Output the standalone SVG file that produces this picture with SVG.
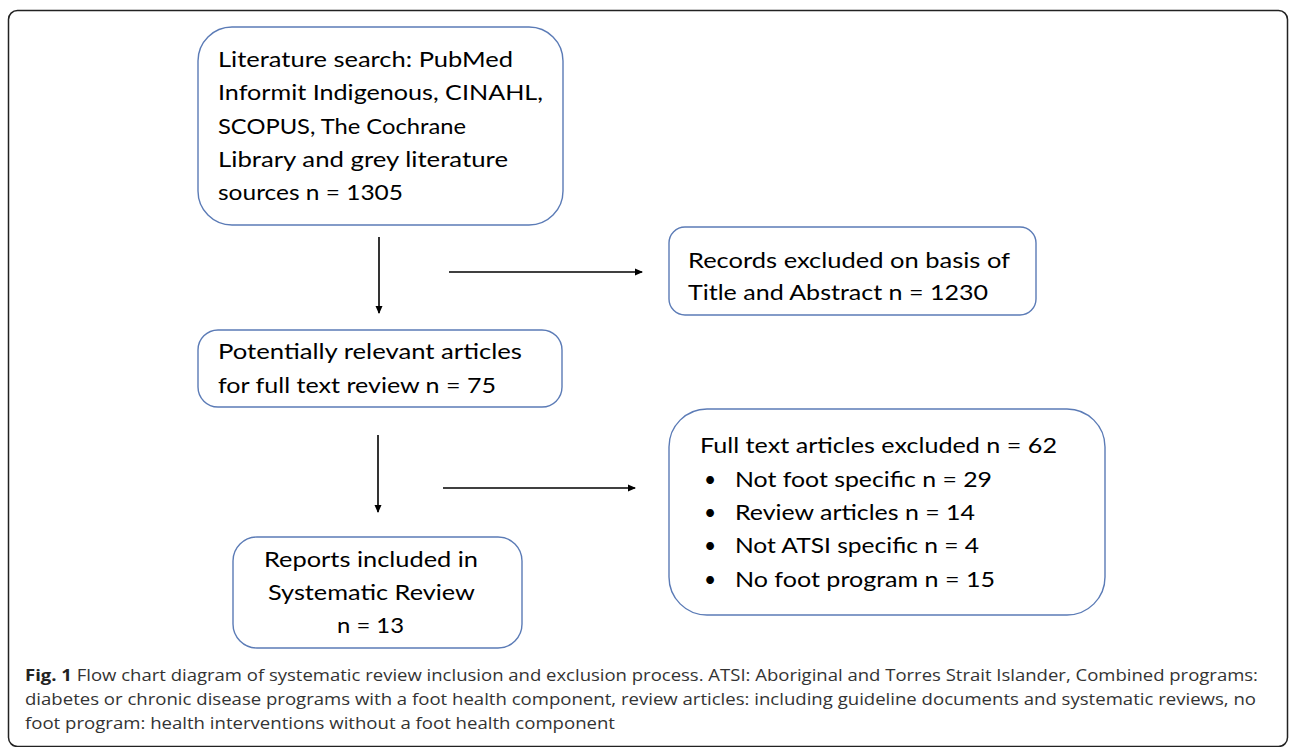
<svg xmlns="http://www.w3.org/2000/svg" width="1290" height="747" viewBox="0 0 1290 747">
<defs>
<style>
.box{fill:#fff;stroke:#5b7bb6;stroke-width:1.4}
.t{font-family:Lato,"Noto Sans",sans-serif;font-size:21px;fill:#000}
.c{font-family:"Open Sans","Noto Sans",sans-serif;font-size:16px;fill:#333}
.cb{font-weight:bold;fill:#222}
.ln{stroke:#000;stroke-width:1.6;fill:none;marker-end:url(#ah)}
.frame{fill:none;stroke:#222;stroke-width:1.5}
</style>
<marker id="ah" markerWidth="8" markerHeight="8" refX="7" refY="4" orient="auto" markerUnits="userSpaceOnUse">
<path d="M0,0.5 L8,4 L0,7.5 Z" fill="#000"/>
</marker>
</defs>
<rect width="1290" height="747" fill="#fff"/>
<rect class="frame" x="8.5" y="10.5" width="1279" height="736" rx="9"/>
<g id="connectors">
<line class="ln" x1="379" y1="237" x2="379" y2="313"/>
<line class="ln" x1="449" y1="272" x2="642" y2="272"/>
<line class="ln" x1="378" y1="435" x2="378" y2="512"/>
<line class="ln" x1="443" y1="488" x2="635" y2="488"/>
</g>
<g id="n1">
<rect class="box" x="198" y="27" width="365" height="198" rx="34"/>
<text class="t" x="218" y="67" textLength="295" lengthAdjust="spacingAndGlyphs">Literature search: PubMed</text>
<text class="t" x="218" y="100" textLength="325" lengthAdjust="spacingAndGlyphs">Informit Indigenous, CINAHL,</text>
<text class="t" x="218" y="134" textLength="248" lengthAdjust="spacingAndGlyphs">SCOPUS, The Cochrane</text>
<text class="t" x="218" y="167" textLength="290" lengthAdjust="spacingAndGlyphs">Library and grey literature</text>
<text class="t" x="218" y="200" textLength="185" lengthAdjust="spacingAndGlyphs">sources n = 1305</text>
</g>
<g id="n2">
<rect class="box" x="198" y="330" width="364" height="77" rx="20"/>
<text class="t" x="218" y="359" textLength="304" lengthAdjust="spacingAndGlyphs">Potentially relevant articles</text>
<text class="t" x="218" y="393" textLength="278" lengthAdjust="spacingAndGlyphs">for full text review n = 75</text>
</g>
<g id="n3">
<rect class="box" x="669" y="227" width="367" height="88" rx="16"/>
<text class="t" x="688" y="268" textLength="322" lengthAdjust="spacingAndGlyphs">Records excluded on basis of</text>
<text class="t" x="688" y="300" textLength="300" lengthAdjust="spacingAndGlyphs">Title and Abstract n = 1230</text>
</g>
<g id="n4">
<rect class="box" x="233" y="537" width="289" height="111" rx="24"/>
<text class="t" x="264" y="567" textLength="214" lengthAdjust="spacingAndGlyphs">Reports included in</text>
<text class="t" x="268" y="600" textLength="207" lengthAdjust="spacingAndGlyphs">Systematic Review</text>
<text class="t" x="337" y="633" textLength="67" lengthAdjust="spacingAndGlyphs">n = 13</text>
</g>
<g id="n5">
<rect class="box" x="669" y="409" width="436" height="206" rx="38"/>
<text class="t" x="700" y="453" textLength="357" lengthAdjust="spacingAndGlyphs">Full text articles excluded n = 62</text>
<text class="t" x="704" y="487">•</text>
<text class="t" x="735" y="487" textLength="257" lengthAdjust="spacingAndGlyphs">Not foot specific n = 29</text>
<text class="t" x="704" y="520">•</text>
<text class="t" x="735" y="520" textLength="240" lengthAdjust="spacingAndGlyphs">Review articles n = 14</text>
<text class="t" x="704" y="553">•</text>
<text class="t" x="735" y="553" textLength="244" lengthAdjust="spacingAndGlyphs">Not ATSI specific n = 4</text>
<text class="t" x="704" y="587">•</text>
<text class="t" x="735" y="587" textLength="260" lengthAdjust="spacingAndGlyphs">No foot program n = 15</text>
</g>
<g id="caption">
<text class="c" x="25" y="681" textLength="1233" lengthAdjust="spacingAndGlyphs"><tspan class="cb">Fig. 1</tspan> Flow chart diagram of systematic review inclusion and exclusion process. ATSI: Aboriginal and Torres Strait Islander, Combined programs:</text>
<text class="c" x="25" y="705" textLength="1231" lengthAdjust="spacingAndGlyphs">diabetes or chronic disease programs with a foot health component, review articles: including guideline documents and systematic reviews, no</text>
<text class="c" x="25" y="729" textLength="590" lengthAdjust="spacingAndGlyphs">foot program: health interventions without a foot health component</text>
</g>
</svg>
